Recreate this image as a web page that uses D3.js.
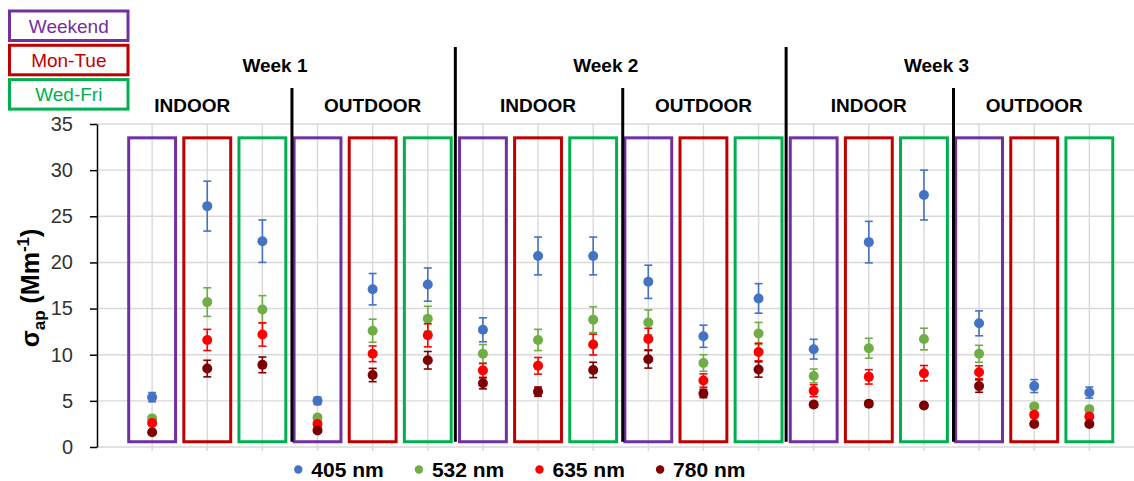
<!DOCTYPE html>
<html>
<head>
<meta charset="utf-8">
<script src="https://cdn.jsdelivr.net/npm/d3@7"></script>
<style>
  html, body { margin: 0; padding: 0; background: #ffffff; }
  svg { display: block; font-family: "Liberation Sans", Arial, sans-serif; }
</style>
</head>
<body>
<svg id="chart" width="1134" height="481"></svg>
<script>
// Measurement campaign layout: 3 weeks x (indoor, outdoor) x 3 day types
const weeks = ["Week 1", "Week 2", "Week 3"];
const sites = ["INDOOR", "OUTDOOR"];
const dayTypes = ["Weekend", "Mon-Tue", "Wed-Fri"];

// Absorption coefficient (Mm-1) per sample group, in campaign order
const wavelengths = ["405 nm", "532 nm", "635 nm", "780 nm"];
const sigma405 = [5.4, 26.1, 22.3, 5.0, 17.1, 17.6, 12.7, 20.7, 20.7, 17.9, 12.0, 16.1, 10.6, 22.2, 27.3, 13.4, 6.6, 5.9];
const err405   = [0.5, 2.7, 2.3, 0.4, 1.7, 1.8, 1.3, 2.05, 2.05, 1.8, 1.2, 1.6, 1.07, 2.25, 2.7, 1.35, 0.7, 0.6];
const sigma532 = [3.1, 15.7, 14.9, 3.2, 12.6, 13.9, 10.1, 11.6, 13.8, 13.5, 9.1, 12.3, 7.7, 10.7, 11.7, 10.1, 4.4, 4.1];
const err532   = [0.25, 1.55, 1.5, 0.3, 1.25, 1.35, 1.0, 1.15, 1.4, 1.35, 0.9, 1.2, 0.75, 1.08, 1.17, 0.92, 0.3, 0.3];
const sigma635 = [2.6, 11.6, 12.2, 2.5, 10.1, 12.1, 8.3, 8.8, 11.1, 11.7, 7.2, 10.3, 6.1, 7.6, 8.0, 8.1, 3.5, 3.3];
const err635   = [0.25, 1.15, 1.27, 0.25, 0.85, 1.25, 0.75, 0.9, 1.13, 1.17, 0.72, 0.95, 0.65, 0.78, 0.83, 0.7, 0.3, 0.25];
const sigma780 = [1.6, 8.5, 8.9, 1.8, 7.8, 9.4, 6.9, 6.0, 8.35, 9.5, 5.8, 8.4, 4.6, 4.7, 4.5, 6.6, 2.5, 2.5];
const err780   = [0.2, 0.9, 0.85, 0.2, 0.72, 0.95, 0.6, 0.5, 0.83, 0.95, 0.45, 0.83, 0.3, 0.3, 0.25, 0.67, 0.2, 0.2];
const yTicks = [0, 5, 10, 15, 20, 25, 30, 35];

const seriesColors = ["#4472C4", "#70AD47", "#FF0000", "#7F0000"];
const dayColors = ["#7030A0", "#C00000", "#00B050"];

const series = [
  { name: wavelengths[0], values: sigma405, errors: err405, color: seriesColors[0] },
  { name: wavelengths[1], values: sigma532, errors: err532, color: seriesColors[1] },
  { name: wavelengths[2], values: sigma635, errors: err635, color: seriesColors[2] },
  { name: wavelengths[3], values: sigma780, errors: err780, color: seriesColors[3] }
];

const nGroups = weeks.length * sites.length * dayTypes.length; // 18
const svg = d3.select("#chart");
const x = d3.scaleLinear().domain([0, nGroups + 1]).range([97, 97 + (nGroups + 1) * 55.13]);
const y = d3.scaleLinear().domain([0, 35]).range([447, 124]);
const right = 1134;

// Gridlines
const grid = svg.append("g");
grid.selectAll("line.h").data(yTicks).join("line")
  .attr("x1", x(0)).attr("x2", right)
  .attr("y1", d => y(d)).attr("y2", d => y(d))
  .attr("stroke", "#d9d9d9").attr("stroke-width", 1.4);
grid.selectAll("line.v").data(d3.range(1, nGroups + 1)).join("line")
  .attr("x1", d => x(d)).attr("x2", d => x(d))
  .attr("y1", y(35)).attr("y2", y(0) + 4)
  .attr("stroke", "#d9d9d9").attr("stroke-width", 1.4);

// Y axis
const yAxis = svg.append("g")
  .attr("transform", `translate(${x(0)},0)`)
  .call(d3.axisLeft(y).tickValues(yTicks).tickSize(7).tickPadding(17).tickSizeOuter(0));
yAxis.select(".domain").attr("stroke", "#000").attr("stroke-width", 1.5);
yAxis.selectAll(".tick line").attr("stroke", "#000").attr("stroke-width", 1.5);
yAxis.selectAll(".tick text")
  .attr("font-family", "Liberation Sans, Arial, sans-serif")
  .attr("font-size", 20).attr("fill", "#333");

// Y axis title: σap (Mm-1)
const yTitle = svg.append("text")
  .attr("transform", "translate(39,288) rotate(-90)")
  .attr("text-anchor", "middle")
  .attr("font-size", 25).attr("font-weight", "bold").attr("fill", "#000");
yTitle.append("tspan").text("σ");
yTitle.append("tspan").attr("font-size", 17).attr("dy", 6).text("ap");
yTitle.append("tspan").attr("dy", -6).text(" (Mm");
yTitle.append("tspan").attr("font-size", 17).attr("dy", -10).text("-1");
yTitle.append("tspan").attr("dy", 10).text(")");

// Day-type frames around each sample group
const boxHalf = 0.425;
const boxTop = 33.5, boxBottom = 0.57;
svg.append("g").selectAll("rect").data(d3.range(nGroups)).join("rect")
  .attr("x", i => x(i + 1 - boxHalf))
  .attr("y", y(boxTop))
  .attr("width", x(1 + boxHalf) - x(1 - boxHalf))
  .attr("height", y(boxBottom) - y(boxTop))
  .attr("fill", "none")
  .attr("stroke", i => dayColors[i % dayTypes.length])
  .attr("stroke-width", 3);

// Week and site separators
const perSite = dayTypes.length;
const perWeek = sites.length * perSite;
const separators = d3.range(1, weeks.length * sites.length).map(k => ({
  at: k * perSite + 0.5,
  weekBreak: k % sites.length === 0
}));
svg.append("g").selectAll("line").data(separators).join("line")
  .attr("x1", d => x(d.at) + (d.weekBreak ? 0 : 2)).attr("x2", d => x(d.at) + (d.weekBreak ? 0 : 2))
  .attr("y1", d => d.weekBreak ? 47 : 88)
  .attr("y2", y(boxBottom))
  .attr("stroke", "#000").attr("stroke-width", 3);

// Week and site headers
svg.append("g").selectAll("text").data(weeks).join("text")
  .attr("x", (d, w) => x(w * perWeek + (perWeek + 1) / 2) - 15)
  .attr("y", 72)
  .attr("text-anchor", "middle")
  .attr("font-size", 19).attr("font-weight", "bold").attr("fill", "#000")
  .text(d => d);
const siteLabels = d3.range(weeks.length * sites.length).map(k => ({ k, label: sites[k % sites.length] }));
svg.append("g").selectAll("text").data(siteLabels).join("text")
  .attr("x", d => x(d.k * perSite + (perSite + 1) / 2) - (d.k === 0 ? 15 : 0))
  .attr("y", 112)
  .attr("text-anchor", "middle")
  .attr("font-size", 19).attr("font-weight", "bold").attr("fill", "#000")
  .text(d => d.label);

// Error bars and markers for each wavelength
const cap = 4;
series.forEach(s => {
  const g = svg.append("g");
  const pts = s.values.map((v, i) => ({ i: i + 1, v, e: s.errors[i] }));
  g.selectAll("line.bar").data(pts).join("line")
    .attr("x1", d => x(d.i)).attr("x2", d => x(d.i))
    .attr("y1", d => y(d.v + d.e)).attr("y2", d => y(d.v - d.e))
    .attr("stroke", s.color).attr("stroke-width", 1.6);
  g.selectAll("line.capTop").data(pts).join("line")
    .attr("x1", d => x(d.i) - cap).attr("x2", d => x(d.i) + cap)
    .attr("y1", d => y(d.v + d.e)).attr("y2", d => y(d.v + d.e))
    .attr("stroke", s.color).attr("stroke-width", 1.6);
  g.selectAll("line.capBottom").data(pts).join("line")
    .attr("x1", d => x(d.i) - cap).attr("x2", d => x(d.i) + cap)
    .attr("y1", d => y(d.v - d.e)).attr("y2", d => y(d.v - d.e))
    .attr("stroke", s.color).attr("stroke-width", 1.6);
  g.selectAll("circle").data(pts).join("circle")
    .attr("cx", d => x(d.i)).attr("cy", d => y(d.v))
    .attr("r", 5).attr("fill", s.color);
});

// Day-type legend (top left)
const dayLegend = svg.append("g");
dayTypes.forEach((d, i) => {
  const top = 11 + i * 34.3;
  dayLegend.append("rect")
    .attr("x", 9.5).attr("y", top).attr("width", 118.5).attr("height", 29.5)
    .attr("fill", "#fff").attr("stroke", dayColors[i]).attr("stroke-width", 3);
  dayLegend.append("text")
    .attr("x", 68.8).attr("y", top + 14.75 + 7)
    .attr("text-anchor", "middle")
    .attr("font-size", 19).attr("fill", dayColors[i])
    .text(d);
});

// Wavelength legend (bottom)
const legend = svg.append("g");
series.forEach((s, i) => {
  const cx = 298.3 + i * 120.6;
  legend.append("circle").attr("cx", cx).attr("cy", 469.5).attr("r", 4.2).attr("fill", s.color);
  legend.append("text")
    .attr("x", cx + 13).attr("y", 476.5)
    .attr("font-size", 21).attr("font-weight", "bold").attr("fill", "#000")
    .text(s.name);
});
</script>
</body>
</html>
